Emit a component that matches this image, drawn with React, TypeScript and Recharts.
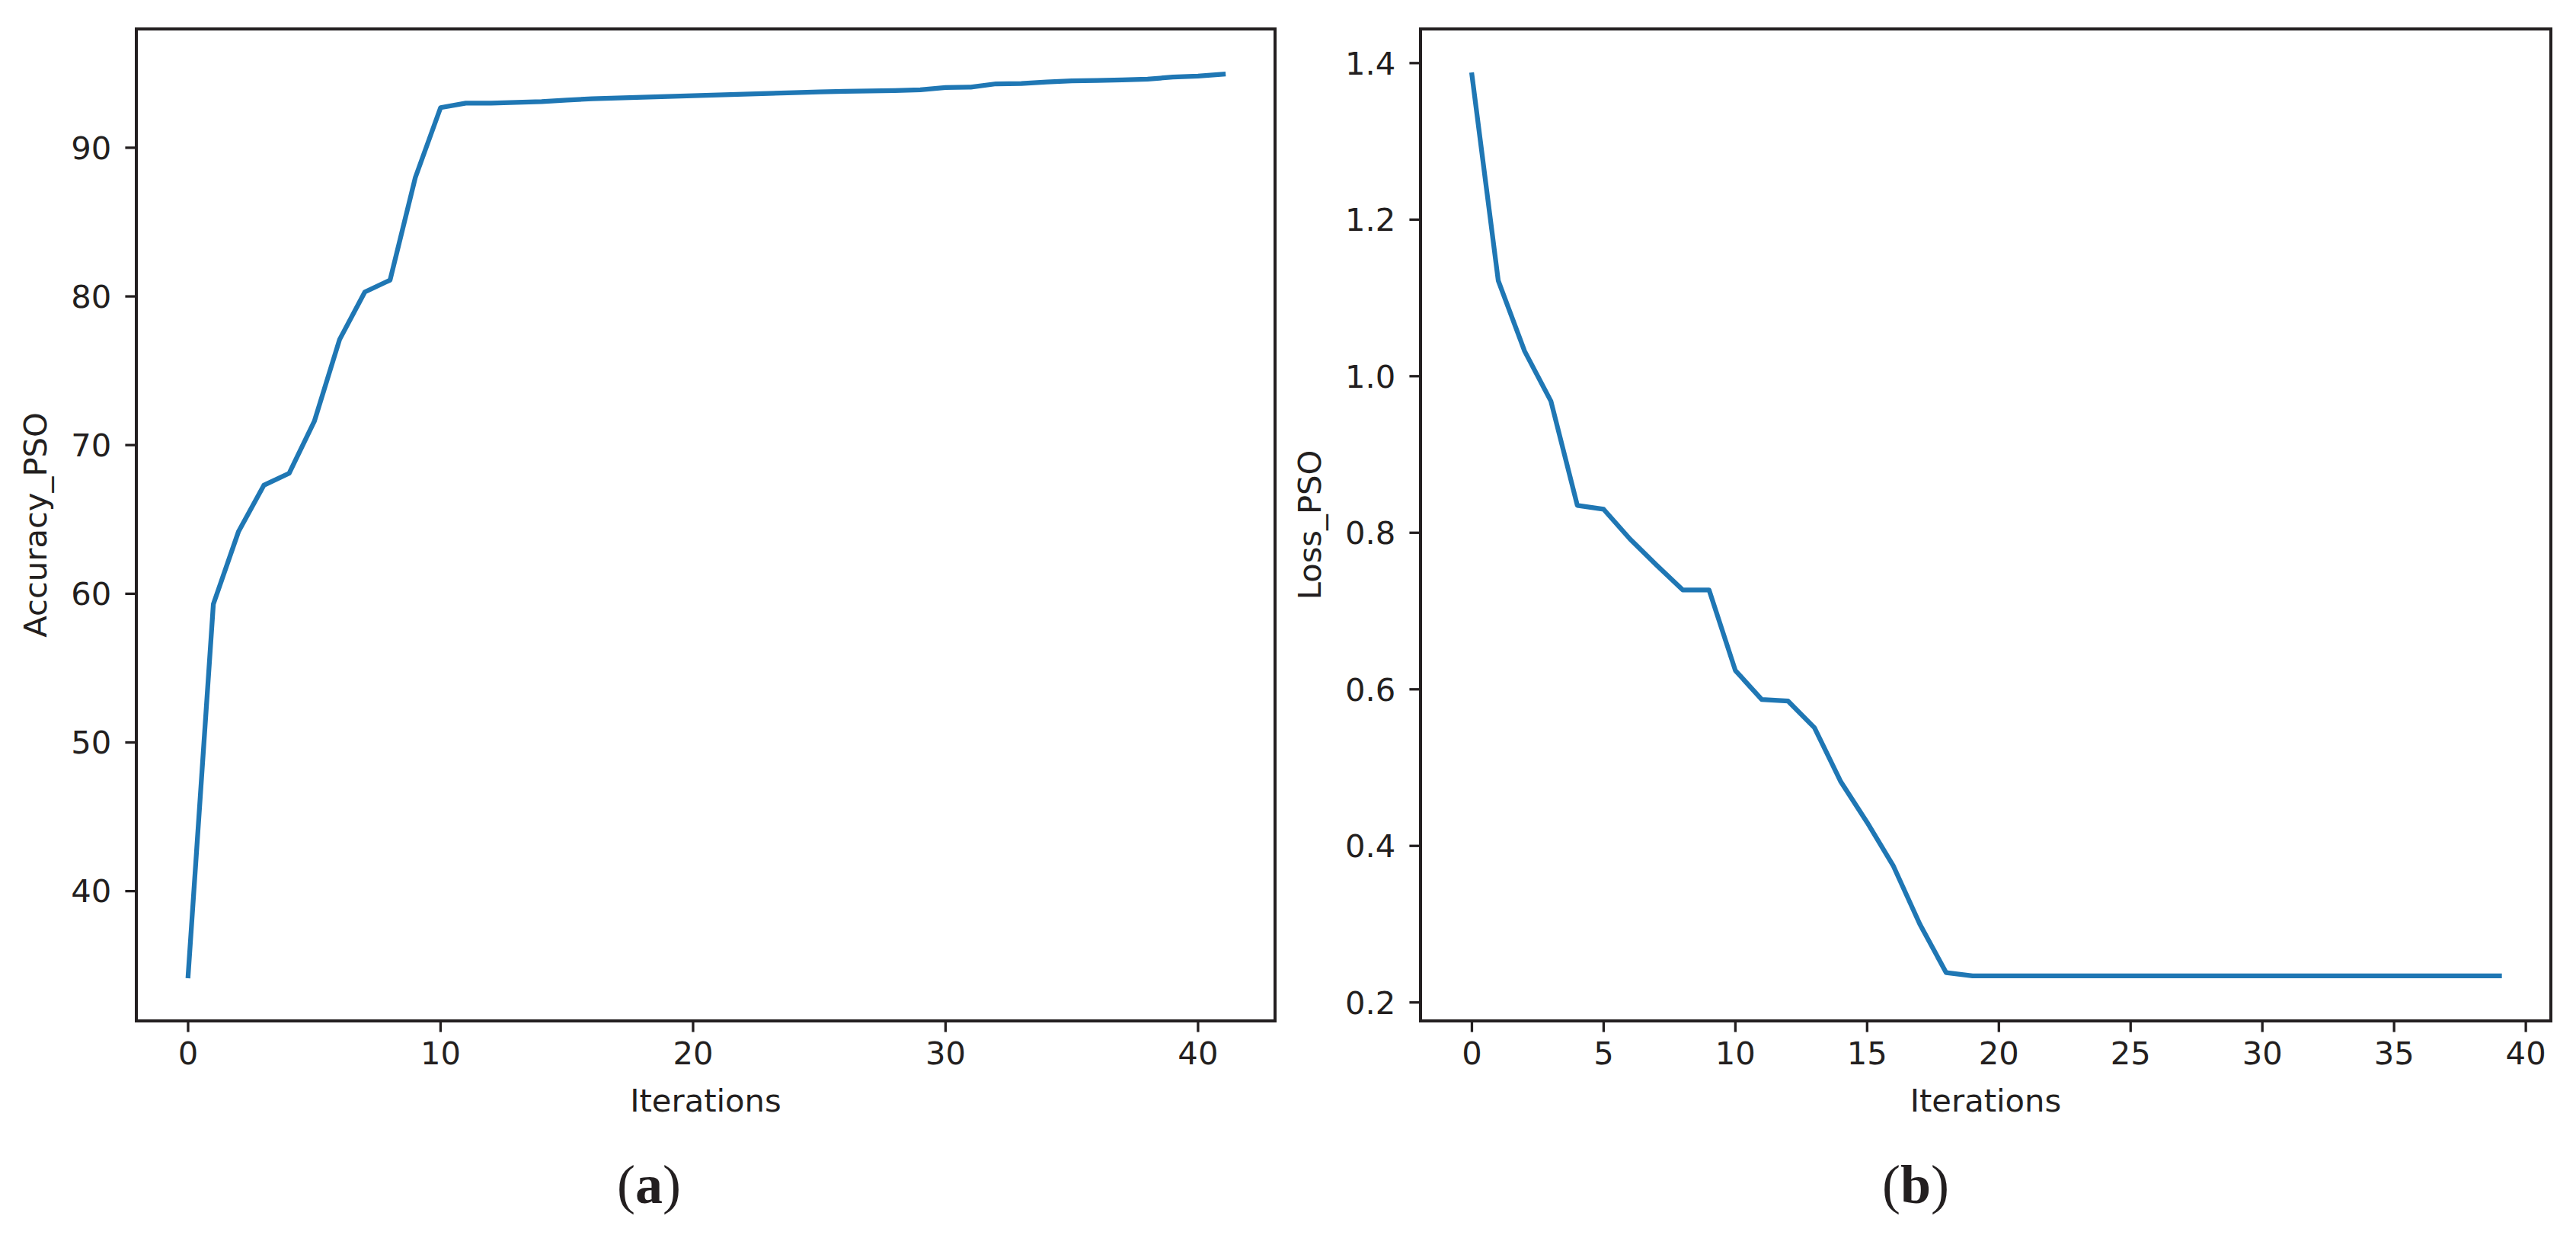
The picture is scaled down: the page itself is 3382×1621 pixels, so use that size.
import { LineChart, Line, XAxis, YAxis, Label, ReferenceArea } from "recharts";

// accuracy per PSO iteration (0..41)
const accuracy = [
  34.3, 59.3, 64.2, 67.3, 68.1, 71.6, 77.1, 80.3, 81.1, 88.0,
  92.7, 93.0, 93.0, 93.05, 93.1, 93.2, 93.3, 93.35, 93.4, 93.45,
  93.5, 93.55, 93.6, 93.65, 93.7, 93.75, 93.8, 93.82, 93.85, 93.9,
  94.05, 94.08, 94.3, 94.32, 94.42, 94.5, 94.52, 94.56, 94.62, 94.75,
  94.82, 94.95,
];

// loss per PSO iteration (0..39)
const loss = [
  1.385, 1.122, 1.032, 0.968, 0.835, 0.83, 0.792, 0.759, 0.727, 0.727,
  0.624, 0.587, 0.585, 0.551, 0.482, 0.43, 0.374, 0.3, 0.238, 0.234,
  0.234, 0.234, 0.234, 0.234, 0.234, 0.234, 0.234, 0.234, 0.234, 0.234,
  0.234, 0.234, 0.234, 0.234, 0.234, 0.234, 0.234, 0.234, 0.234, 0.234,
];

const accXTicks = [0, 10, 20, 30, 40];
const accYTicks = [40, 50, 60, 70, 80, 90];
const lossXTicks = [0, 5, 10, 15, 20, 25, 30, 35, 40];
const lossYTicks = [0.2, 0.4, 0.6, 0.8, 1.0, 1.2, 1.4];

const accData = accuracy.map((v, i) => ({ iter: i, value: v }));
const lossData = loss.map((v, i) => ({ iter: i, value: v }));

const INK = "#231f20";
const BLUE = "#1f77b4";
const FS = 41.7;
const FONT = "DejaVu Sans";

const tickStyle = { fontSize: FS, fill: INK, fontFamily: FONT };
const axisLine = { stroke: INK, strokeWidth: 4 };
const tickLine = { stroke: INK, strokeWidth: 3.3 };

interface PanelProps {
  data: { iter: number; value: number }[];
  width: number;
  xDomain: [number, number];
  yDomain: [number, number];
  xTicks: number[];
  yTicks: number[];
  yLabel: string;
  yAxisWidth: number;
  yLabelOffset: number;
  marginRight: number;
  fmt?: (v: number) => string;
}

function Panel(p: PanelProps) {
  return (
    <LineChart
      width={p.width}
      height={1621}
      data={p.data}
      margin={{ top: 38, right: p.marginRight, left: 0, bottom: 162 }}
    >
      <XAxis
        dataKey="iter"
        type="number"
        domain={p.xDomain}
        ticks={p.xTicks}
        interval={0}
        height={119}
        tick={tickStyle}
        tickLine={tickLine}
        tickSize={14.6}
        tickMargin={13}
        axisLine={axisLine}
      >
        <Label
          value="Iterations"
          position="insideBottom"
          offset={0}
          style={{ fontSize: FS, fill: INK, fontFamily: FONT }}
        />
      </XAxis>
      <YAxis
        type="number"
        domain={p.yDomain}
        ticks={p.yTicks}
        interval={0}
        width={p.yAxisWidth}
        tick={tickStyle}
        tickLine={tickLine}
        tickSize={14.6}
        tickMargin={18}
        axisLine={axisLine}
        tickFormatter={p.fmt}
      >
        <Label
          value={p.yLabel}
          angle={-90}
          position="insideLeft"
          offset={p.yLabelOffset}
          style={{ fontSize: FS, fill: INK, fontFamily: FONT, textAnchor: "middle" }}
        />
      </YAxis>
      {/* axes frame (matplotlib-style box) */}
      <ReferenceArea
        x1={p.xDomain[0]}
        x2={p.xDomain[1]}
        y1={p.yDomain[0]}
        y2={p.yDomain[1]}
        fill="none"
        fillOpacity={0}
        stroke={INK}
        strokeWidth={4}
        strokeOpacity={1}
      />
      <Line
        type="linear"
        dataKey="value"
        stroke={BLUE}
        strokeWidth={6.25}
        strokeLinejoin="round"
        strokeLinecap="square"
        dot={false}
        activeDot={false}
        isAnimationActive={false}
      />
    </LineChart>
  );
}

export default function App() {
  return (
    <div
      style={{
        position: "absolute",
        left: 0,
        top: 0,
        width: 3382,
        height: 1621,
        background: "#fff",
        overflow: "hidden",
      }}
    >
      <div style={{ position: "absolute", left: 0, top: 0 }}>
        <Panel
          data={accData}
          width={1700}
          xDomain={[-2.05, 43.05]}
          yDomain={[31.27, 97.99]}
          xTicks={accXTicks}
          yTicks={accYTicks}
          yLabel="Accuracy_PSO"
          yAxisWidth={179}
          yLabelOffset={46}
          marginRight={26}
        />
      </div>
      <div style={{ position: "absolute", left: 1691, top: 0 }}>
        <Panel
          data={lossData}
          width={1691}
          xDomain={[-1.95, 40.95]}
          yDomain={[0.1764, 1.4436]}
          xTicks={lossXTicks}
          yTicks={lossYTicks}
          yLabel="Loss_PSO"
          yAxisWidth={174}
          yLabelOffset={28}
          marginRight={33}
          fmt={(v: number) => v.toFixed(1)}
        />
      </div>
      <svg
        width={3382}
        height={1621}
        style={{ position: "absolute", left: 0, top: 0, pointerEvents: "none" }}
      >
        <text
          x={852}
          y={1579}
          textAnchor="middle"
          fontFamily="Liberation Serif"
          fontSize={72}
          fill={INK}
        >
          (<tspan fontWeight="bold">a</tspan>)
        </text>
        <text
          x={2515}
          y={1579}
          textAnchor="middle"
          fontFamily="Liberation Serif"
          fontSize={72}
          fill={INK}
        >
          (<tspan fontWeight="bold">b</tspan>)
        </text>
      </svg>
    </div>
  );
}
